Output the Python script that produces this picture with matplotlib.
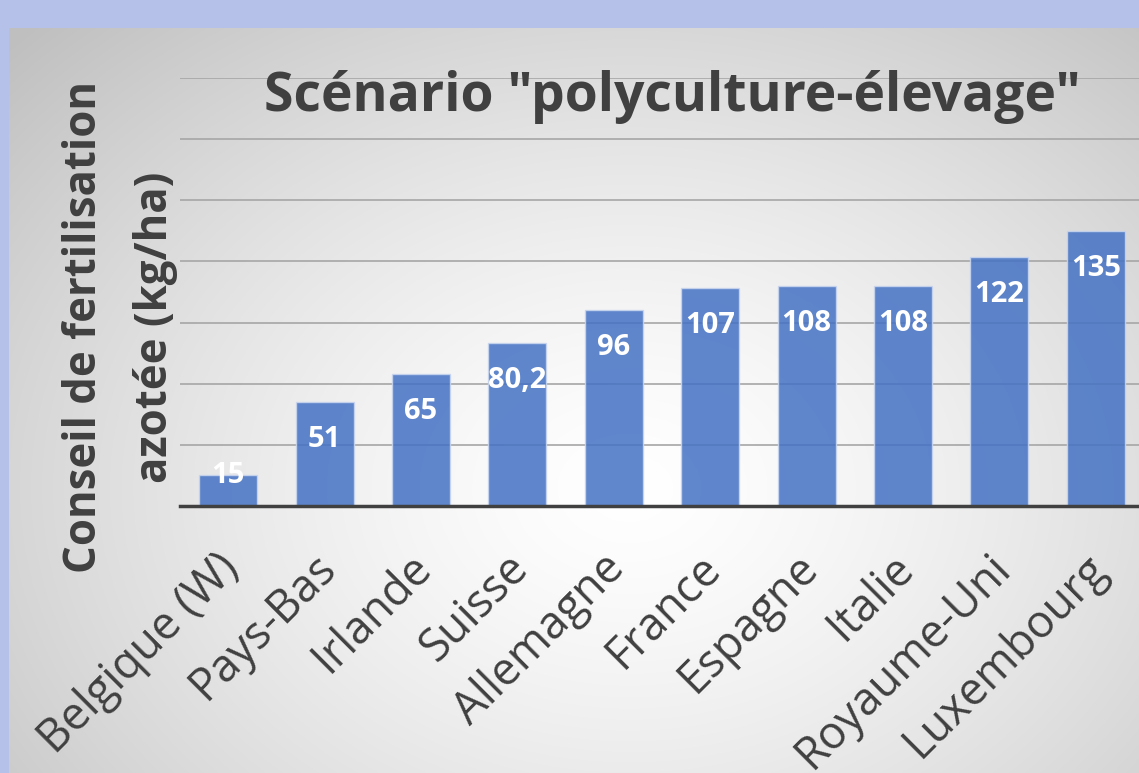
import numpy as np
import matplotlib
matplotlib.use("Agg")
from matplotlib import pyplot as plt
from matplotlib import transforms

pays = ["Belgique (W)", "Pays-Bas", "Irlande", "Suisse", "Allemagne",
        "France", "Espagne", "Italie", "Royaume-Uni", "Luxembourg"]
valeurs = [15, 51, 65, 80.2, 96, 107, 108, 108, 122, 135]
etiquettes = ["15", "51", "65", "80,2", "96", "107", "108", "108", "122", "135"]

plt.rcParams['font.family'] = ['Open Sans', 'DejaVu Sans']

W, H = 1139, 773
fig = plt.figure(figsize=(W / 100, H / 100), dpi=100)
fig.patch.set_facecolor('#b6c1ea')

# gradient panel behind the chart
bg = fig.add_axes([9 / W, 0, 1 - 9 / W, 1 - 28 / H])
bg.set_axis_off()
yy, xx = np.mgrid[0:745, 0:1130]
d = np.sqrt(((xx - 620) / 850) ** 2 + ((yy - 460) / 650) ** 2)
d = np.clip(d, 0, 1)
lum = 1.0 - 0.25 * d ** 1.4
img = np.dstack([lum, lum, lum])
bg.imshow(img, aspect='auto', interpolation='bilinear')

ax = fig.add_axes([180 / W, 1 - 506 / H, 964 / W, (506 - 78) / H])
ax.patch.set_alpha(0)
x = np.arange(len(pays))
bars = ax.bar(x, valeurs, width=0.6, color='#4472c4', alpha=0.85,
              edgecolor='#c9d6ef', linewidth=1.0, zorder=3)
ax.set_xlim(-0.5, len(pays) - 0.5)
ax.set_ylim(0, 210)
ax.set_yticks(np.arange(0, 211, 30))
ax.yaxis.grid(True, color='#a6a6a6', linewidth=1.2, zorder=1)
ax.tick_params(axis='y', left=False, labelleft=False)
ax.tick_params(axis='x', length=0, pad=28)
for s in ['top', 'right', 'left']:
    ax.spines[s].set_visible(False)
ax.spines['bottom'].set_color('#404040')
ax.spines['bottom'].set_linewidth(2.5)
ax.spines['bottom'].set_zorder(5)

ax.set_xticks(x)
ax.set_xticklabels(pays, rotation=45, ha='right', rotation_mode='anchor',
                   fontsize=32.5, color='#404040')
shift = transforms.ScaledTranslation(-12 / 100, 0, fig.dpi_scale_trans)
for lab in ax.get_xticklabels():
    lab.set_transform(lab.get_transform() + shift)

for xi, v, t in zip(x, valeurs, etiquettes):
    off = -27 if v > 30 else 0
    ax.annotate(t, (xi, v), xytext=(0, off), textcoords='offset points',
                ha='center', va='center', color='white', fontsize=21,
                fontweight='bold', zorder=6)

fig.text(672 / W, 1 - 97 / H, 'Scénario "polyculture-élevage"',
         ha='center', va='center', fontsize=38.5, fontweight='bold', color='#404040')
fig.text(85 / W, 1 - 327 / H, 'Conseil de fertilisation', rotation=90,
         ha='center', va='center', fontsize=31.5, fontweight='bold', color='#404040')
fig.text(155 / W, 1 - 327 / H, 'azotée (kg/ha)', rotation=90,
         ha='center', va='center', fontsize=31.5, fontweight='bold', color='#404040')

fig.savefig('out.png', dpi=100, facecolor=fig.get_facecolor())
